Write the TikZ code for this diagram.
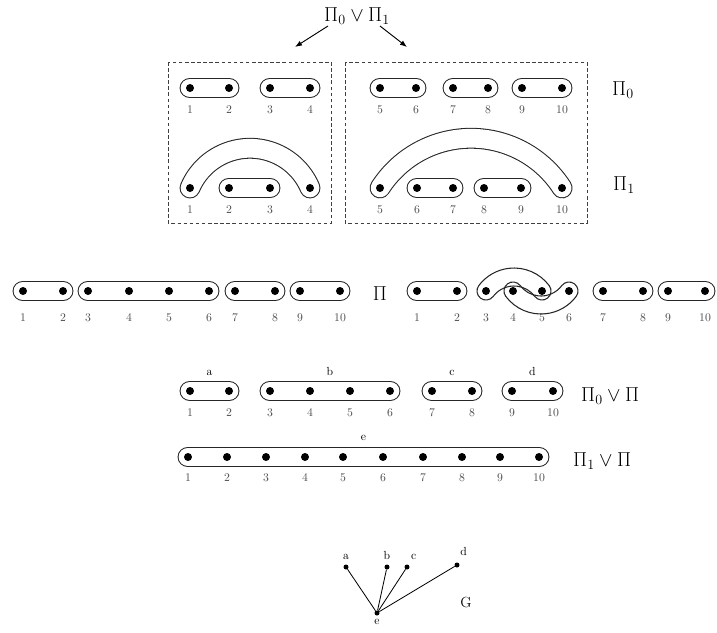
\documentclass[tikz,border=0pt]{standalone}
\usepackage{amsmath,amssymb}
\usepackage{tikz}
\usetikzlibrary{positioning,arrows.meta,calc}
\pgfdeclarelayer{background}
\pgfsetlayers{background,main}
\tikzset{
  elem/.style={circle, fill=black, inner sep=0pt, minimum size=0.24cm},
  vert/.style={circle, fill=black, inner sep=0pt, minimum size=0.15cm},
  num/.style={inner sep=0pt, text=black!70, font=\normalsize},
  lett/.style={inner sep=0pt, font=\normalsize},
  part/.style={inner sep=0pt, font=\fontsize{17}{20}\selectfont},
  block/.style={draw=black!85, line width=0.9pt, double=white, double distance=16pt, line cap=round},
  band/.style={draw=black!85, line width=0.9pt},
  box/.style={draw=black!75, line width=0.7pt, dash pattern=on 3pt off 2.2pt},
  arrow/.style={-{Latex[length=6pt,width=4.5pt]}, line width=0.8pt},
  gedge/.style={draw, line width=0.7pt}
}
\newcommand{\linkband}[4]{%
  \draw[band] (#1) ++(#3:#2+9) arc[start angle=#3, end angle=#4, radius=#2+9]
    arc[start angle=#4, end angle=#4+180, radius=9]
    arc[start angle=#4, end angle=#3, radius=#2-9]
    arc[start angle=#3+180, end angle=#3+360, radius=9] -- cycle;}

\begin{document}
\begin{tikzpicture}[x=0.03cm, y=0.03cm]
  \useasboundingbox (0,0) rectangle (717,-632);

  \node[part, font=\fontsize{18}{20}\selectfont, anchor=base] (join) at (357,-21) {$\Pi_0\vee\Pi_1$};
  \coordinate (jl) at (328,-26);
  \coordinate (jr) at (380,-26);
  \coordinate (bl) at (295,-47);
  \coordinate (br) at (407,-47);
  \draw[arrow] (jl) -- (bl);
  \draw[arrow] (jr) -- (br);

  \draw[box] (168,-62) rectangle (331,-223);
  \draw[box] (345,-62) rectangle (587,-223);

  \foreach \n/\x in {1/190,2/229,3/270,4/310,5/380,6/416,7/453,8/488,9/522,10/562} {
    \node[elem] (p\n) at (\x,-88) {};
    \node[num] (np\n) at (\x,-110) {\n};
  }
  \node[part, anchor=base west] (pi0) at (612,-95) {$\Pi_0$};

  \foreach \n/\x in {1/190,2/229,3/270,4/310,5/380,6/417,7/453,8/484,9/521,10/562} {
    \node[elem] (q\n) at (\x,-188) {};
    \node[num] (nq\n) at (\x,-210) {\n};
  }
  \node[part, anchor=base west] (pi1) at (613,-190) {$\Pi_1$};

  \foreach \n/\x in {1/23,2/63,3/88,4/129,5/169,6/209,7/235,8/275,9/300,10/340} {
    \node[elem] (r\n) at (\x,-291) {};
    \node[num] (nr\n) at (\x,-318) {\n};
  }
  \node[part, anchor=base] (pi) at (380,-300) {$\Pi$};

  \foreach \n/\x in {1/417,2/457,3/486,4/513,5/542,6/569,7/603,8/643,9/668,10/705} {
    \node[elem] (s\n) at (\x,-291) {};
    \node[num] (ns\n) at (\x,-318) {\n};
  }

  \foreach \n/\x in {1/190,2/229,3/270,4/310,5/350,6/390,7/432,8/472,9/512,10/553} {
    \node[elem] (t\n) at (\x,-391) {};
    \node[num] (nt\n) at (\x,-413) {\n};
  }
  \foreach \l/\i/\j in {a/1/2,b/3/6,c/7/8,d/9/10} {
    \node[lett, anchor=base] (c\l) at ($(t\i)!0.5!(t\j)+(0,16)$) {\l};
  }
  \node[part, anchor=base west] (pi0pi) at (581,-401) {$\Pi_0\vee\Pi$};

  \foreach \n/\x in {1/188,2/227,3/266,4/305,5/343,6/383,7/423,8/462,9/500,10/539} {
    \node[elem] (u\n) at (\x,-457) {};
    \node[num] (nu\n) at (\x,-478) {\n};
  }
  \node[lett, anchor=base] (ce) at ($(u1)!0.5!(u10)+(0,17)$) {e};
  \node[part, anchor=base west] (pi1pi) at (573,-466) {$\Pi_1\vee\Pi$};

  \begin{pgfonlayer}{background}
    \foreach \i/\j in {1/2,3/4,5/6,7/8,9/10} {\draw[block] (p\i.center) -- (p\j.center);}
    \foreach \i/\j in {2/3,6/7,8/9} {\draw[block] (q\i.center) -- (q\j.center);}
    \draw[block] (q1.center) arc[start angle=157, end angle=23, radius=65.2];
    \draw[block] (q5.center) arc[start angle=147.3, end angle=32.7, radius=108.2];
    \foreach \i/\j in {1/2,3/6,7/8,9/10} {\draw[block] (r\i.center) -- (r\j.center);}
    \foreach \i/\j in {1/2,7/8,9/10} {\draw[block] (s\i.center) -- (s\j.center);}
    \linkband{$(s3)!0.5!(s5)+(0,-21)$}{35}{36.87}{143.13}
    \linkband{$(s4)!0.5!(s6)+(0,21)$}{35}{-143.13}{-36.87}
    \foreach \i/\j in {1/2,3/6,7/8,9/10} {\draw[block] (t\i.center) -- (t\j.center);}
    \draw[block] (u1.center) -- (u10.center);
  \end{pgfonlayer}

  \node[vert] (ga) at (346,-567) {};
  \node[vert] (gb) at (387,-567) {};
  \node[vert] (gc) at (407,-567) {};
  \node[vert] (gd) at (457,-565) {};
  \node[vert] (ge) at (377,-613) {};
  \node[lett, above=0.12cm of ga] (la) {a};
  \node[lett, above=0.12cm of gb] (lb) {b};
  \node[lett, above=0.12cm of gc, xshift=0.2cm] (lc) {c};
  \node[lett, above=0.18cm of gd, xshift=0.2cm] (ld) {d};
  \node[lett, below=0.09cm of ge] (le) {e};
  \foreach \v in {a,b,c,d} {\draw[gedge] (ge) -- (g\v);}
  \node[part, font=\fontsize{12.5}{14}\selectfont, anchor=base] (gname) at (466,-607) {G};
\end{tikzpicture}
\end{document}
